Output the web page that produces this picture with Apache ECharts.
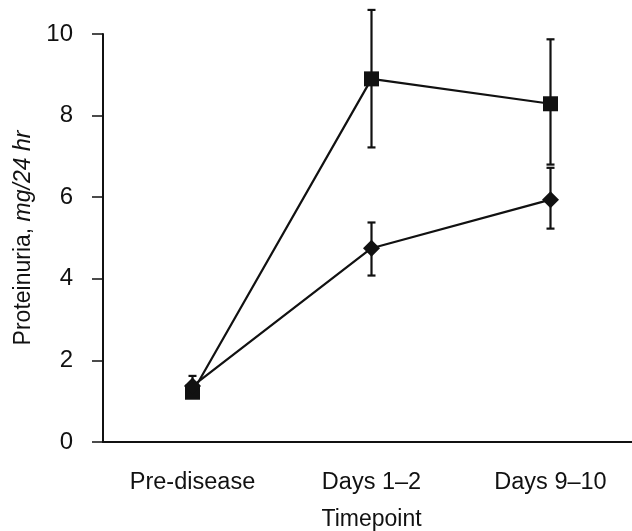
<!DOCTYPE html>
<html>
<head>
<meta charset="utf-8">
<script src="https://cdn.jsdelivr.net/npm/echarts@6/dist/echarts.min.js"></script>
<style>
  html, body { margin: 0; padding: 0; background: #fff; }
  #chart { width: 632px; height: 531px; }
</style>
</head>
<body>
<div id="chart"></div>
<script>
// data
const categories = ["Pre-disease", "Days 1\u20132", "Days 9\u201310"];
const yTicks = [0, 2, 4, 6, 8, 10];

const squareMean = [1.22, 8.9, 8.29];
const squareLow = [1.1, 7.22, 6.8];
const squareHigh = [1.34, 10.59, 9.87];

const diamondMean = [1.37, 4.75, 5.94];
const diamondLow = [1.22, 4.08, 5.23];
const diamondHigh = [1.62, 5.38, 6.72];

const font = "'Liberation Sans', Arial, sans-serif";
const ink = "#111";

// error bar rows: [category index, low, high]
function errRows(low, high) {
  return low.map((l, i) => [i, l, high[i]]);
}

function renderErr(params, api) {
  const x = api.value(0);
  const lo = api.coord([x, api.value(1)]);
  const hi = api.coord([x, api.value(2)]);
  const cap = 4;
  const style = { stroke: ink, lineWidth: 2.2 };
  return {
    type: "group",
    children: [
      { type: "line", shape: { x1: lo[0], y1: lo[1], x2: hi[0], y2: hi[1] }, style },
      { type: "line", shape: { x1: lo[0] - cap, y1: lo[1], x2: lo[0] + cap, y2: lo[1] }, style },
      { type: "line", shape: { x1: hi[0] - cap, y1: hi[1], x2: hi[0] + cap, y2: hi[1] }, style },
    ],
  };
}

const chart = echarts.init(document.getElementById("chart"));
chart.setOption({
  animation: false,
  backgroundColor: "#fff",
  grid: { left: 103, top: 34, width: 537, height: 408, outerBoundsMode: "none", containLabel: false },
  xAxis: {
    type: "category",
    data: categories,
    boundaryGap: true,
    name: "Timepoint",
    nameLocation: "middle",
    nameGap: 66,
    nameTextStyle: { fontFamily: font, fontSize: 23, color: ink },
    axisLine: { lineStyle: { color: ink, width: 2 } },
    axisTick: { alignWithLabel: true, length: 10, lineStyle: { color: ink, width: 1.5 } },
    axisLabel: { margin: 29, fontFamily: font, fontSize: 23.5, color: ink },
  },
  yAxis: {
    type: "value",
    min: yTicks[0],
    max: yTicks[yTicks.length - 1],
    interval: 2,
    name: "{a|Proteinuria, }{b|mg/24 hr}",
    nameLocation: "middle",
    nameGap: 63,
    nameTextStyle: {
      rich: {
        a: { fontFamily: font, fontSize: 23, color: ink },
        b: { fontFamily: font, fontSize: 23, color: ink, fontStyle: "italic" },
      },
    },
    splitLine: { show: false },
    axisLine: { show: true, lineStyle: { color: ink, width: 2 } },
    axisTick: { show: true, length: 11, lineStyle: { color: ink, width: 1.5 } },
    axisLabel: { margin: 30, fontFamily: font, fontSize: 24, color: ink },
  },
  series: [
    {
      type: "custom",
      renderItem: renderErr,
      data: errRows(squareLow, squareHigh),
      z: 1,
    },
    {
      type: "custom",
      renderItem: renderErr,
      data: errRows(diamondLow, diamondHigh),
      z: 1,
    },
    {
      type: "line",
      data: squareMean,
      symbol: "rect",
      symbolSize: 15,
      lineStyle: { color: ink, width: 2.2 },
      itemStyle: { color: ink },
      z: 3,
    },
    {
      type: "line",
      data: diamondMean,
      symbol: "diamond",
      symbolSize: 17,
      lineStyle: { color: ink, width: 2.2 },
      itemStyle: { color: ink },
      z: 3,
    },
  ],
});
</script>
</body>
</html>
